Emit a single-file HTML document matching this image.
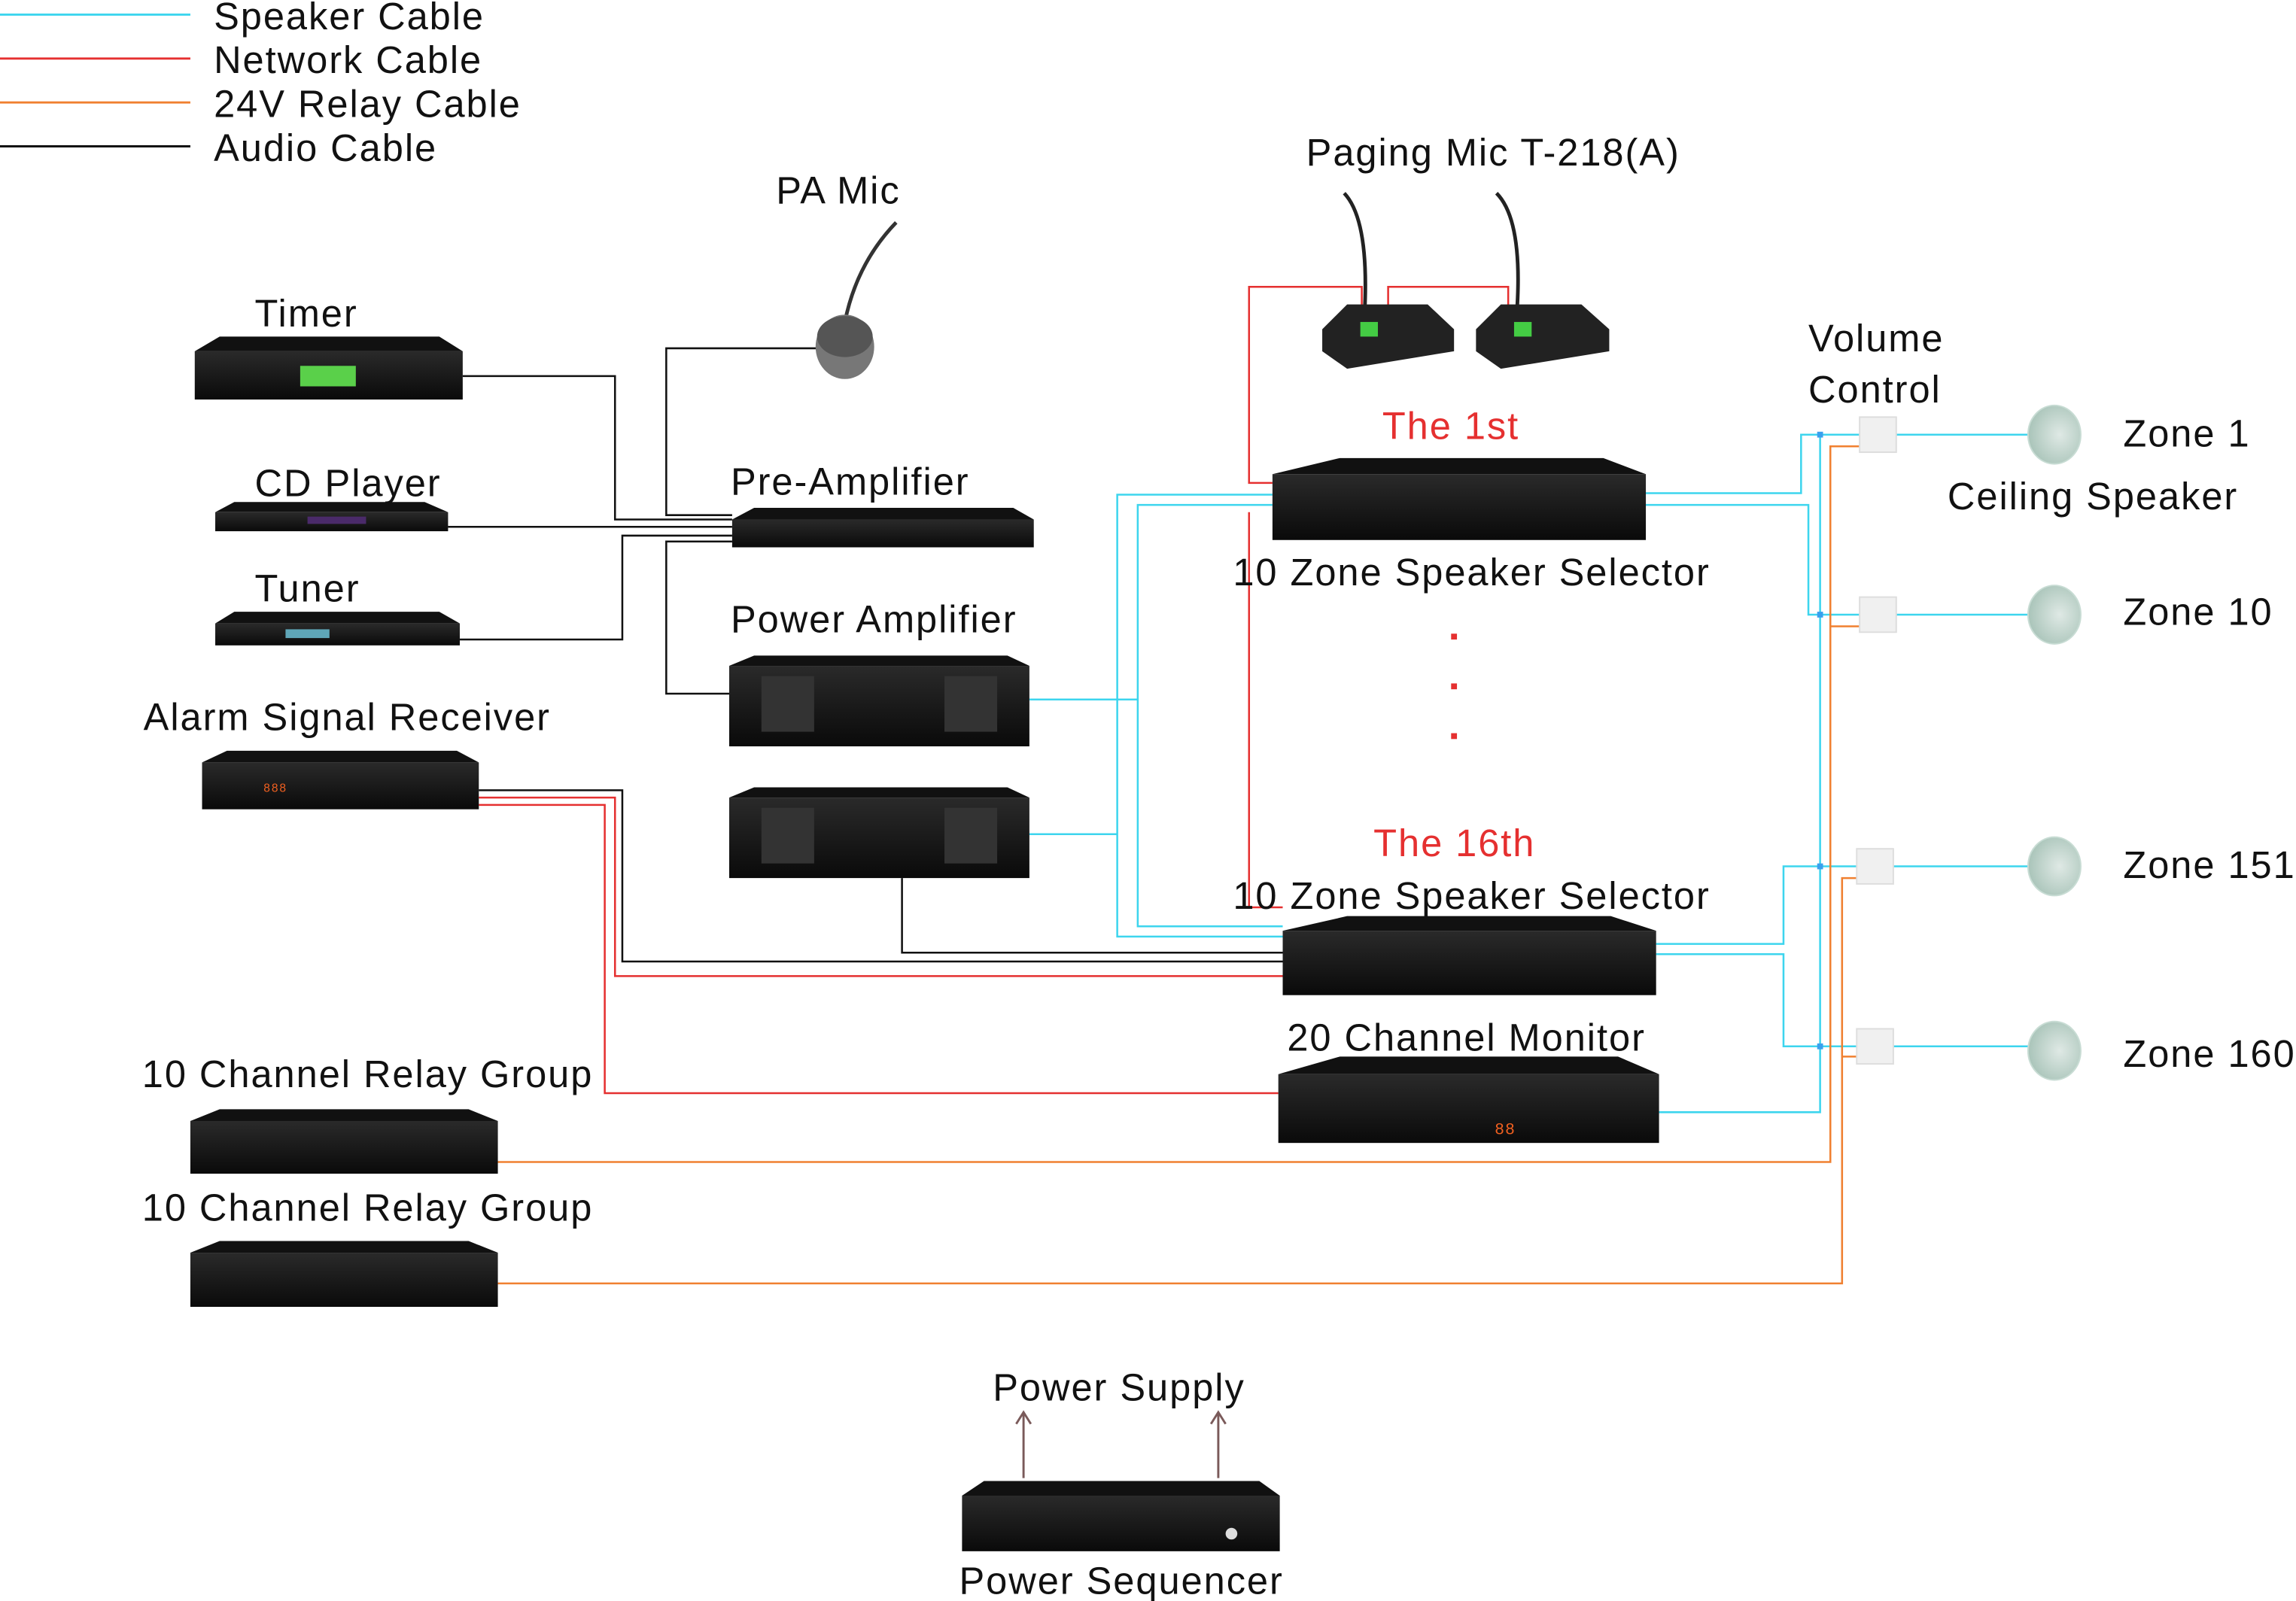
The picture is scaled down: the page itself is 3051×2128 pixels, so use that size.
<!DOCTYPE html>
<html><head><meta charset="utf-8"><style>
html,body{margin:0;padding:0;background:#fff;}
svg{display:block}
text{font-family:"Liberation Sans",sans-serif;font-size:26px;fill:#111;letter-spacing:1px}
</style></head><body>
<svg width="3051" height="2128" viewBox="0 0 1568 1094" preserveAspectRatio="none" xmlns="http://www.w3.org/2000/svg">
<defs>
<linearGradient id="dev" x1="0" y1="0" x2="0" y2="1"><stop offset="0" stop-color="#2a2a2a"/><stop offset="1" stop-color="#0a0a0a"/></linearGradient>
<radialGradient id="spk" cx="0.6" cy="0.5" r="0.6"><stop offset="0" stop-color="#dfe9e5"/><stop offset="1" stop-color="#a9c4b9"/></radialGradient>
</defs>
<!-- legend -->
<g stroke-width="1.5">
<line x1="0" y1="10" x2="130" y2="10" stroke="#3dd5ee"/>
<line x1="0" y1="40" x2="130" y2="40" stroke="#e53030"/>
<line x1="0" y1="70" x2="130" y2="70" stroke="#f08030"/>
<line x1="0" y1="100" x2="130" y2="100" stroke="#111"/>
</g>
<text x="146" y="20">Speaker Cable</text>
<text x="146" y="50">Network Cable</text>
<text x="146" y="80">24V Relay Cable</text>
<text x="146" y="110">Audio Cable</text>

<!-- black audio lines -->
<g fill="none" stroke="#111" stroke-width="1.3">
<polyline points="316,257 420,257 420,355 500,355"/>
<polyline points="306,360 500,360"/>
<polyline points="314,437 425,437 425,366 500,366"/>
<polyline points="558,238 455,238 455,352 500,352"/>
<polyline points="500,370 455,370 455,474 498,474"/>
<polyline points="327,540 425,540 425,657 876,657"/>
<polyline points="616,600 616,651 876,651"/>
</g>
<!-- red network -->
<g fill="none" stroke="#e53030" stroke-width="1.3">
<polyline points="327,545 420,545 420,667 876,667"/>
<polyline points="327,550 413,550 413,747 873,747"/>
<polyline points="930,210 930,196 853,196 853,330 869,330"/>
<polyline points="853,350 853,620 876,620"/>
<polyline points="948,212 948,196 1030,196 1030,212"/>
</g>
<!-- cyan speaker -->
<g fill="none" stroke="#3dd5ee" stroke-width="1.3">
<polyline points="703,478 777,478"/>
<polyline points="703,570 763,570"/>
<polyline points="869,338 763,338 763,640 876,640"/>
<polyline points="869,345 777,345 777,633 876,633"/>
<polyline points="1124,337 1230,337 1230,297 1270,297"/>
<polyline points="1124,345 1235,345 1235,420 1270,420"/>
<polyline points="1131,645 1218,645 1218,592 1270,592"/>
<polyline points="1131,652 1218,652 1218,715 1270,715"/>
<polyline points="1133,760 1243,760 1243,297"/>
<line x1="1295" y1="297" x2="1385" y2="297"/>
<line x1="1295" y1="420" x2="1385" y2="420"/>
<line x1="1293" y1="592" x2="1385" y2="592"/>
<line x1="1293" y1="715" x2="1385" y2="715"/>
</g>
<g fill="#3aa0ee"><rect x="1241" y="295" width="4" height="4"/><rect x="1241" y="418" width="4" height="4"/><rect x="1241" y="590" width="4" height="4"/><rect x="1241" y="713" width="4" height="4"/></g>
<!-- orange relay -->
<g fill="none" stroke="#f08030" stroke-width="1.3">
<polyline points="340,794 1250,794 1250,305 1270,305"/>
<polyline points="1250,428 1270,428"/>
<polyline points="340,877 1258,877 1258,600 1270,600"/>
<polyline points="1258,722 1270,722"/>
</g>

<!-- devices -->
<g id="devs">
<g><polygon points="150,230 300,230 316,240 133,240" fill="#111"/><rect x="133" y="240" width="183" height="33" fill="url(#dev)"/><rect x="205" y="250" width="38" height="14" fill="#5ad04a"/></g>
<g><polygon points="160,343 290,343 306,350 147,350" fill="#111"/><rect x="147" y="350" width="159" height="13" fill="url(#dev)"/><rect x="210" y="353" width="40" height="5" fill="#4a2a6a"/></g>
<g><polygon points="160,418 300,418 314,426 147,426" fill="#111"/><rect x="147" y="426" width="167" height="15" fill="url(#dev)"/><rect x="195" y="430" width="30" height="6" fill="#5fa6b8"/></g>
<g><polygon points="155,513 312,513 327,521 138,521" fill="#111"/><rect x="138" y="521" width="189" height="32" fill="url(#dev)"/><text x="180" y="541" style="font-size:8px;fill:#f06020">888</text></g>
<g><polygon points="515,347 692,347 706,355 500,355" fill="#111"/><rect x="500" y="355" width="206" height="19" fill="url(#dev)"/></g>
<g><polygon points="515,448 688,448 703,455 498,455" fill="#111"/><rect x="498" y="455" width="205" height="55" fill="url(#dev)"/><rect x="520" y="462" width="36" height="38" fill="#333"/><rect x="645" y="462" width="36" height="38" fill="#333"/></g>
<g><polygon points="515,538 688,538 703,545 498,545" fill="#111"/><rect x="498" y="545" width="205" height="55" fill="url(#dev)"/><rect x="520" y="552" width="36" height="38" fill="#333"/><rect x="645" y="552" width="36" height="38" fill="#333"/></g>
<g><polygon points="915,313 1095,313 1124,324 869,324" fill="#111"/><rect x="869" y="324" width="255" height="45" fill="url(#dev)"/></g>
<g><polygon points="920,626 1100,626 1131,636 876,636" fill="#111"/><rect x="876" y="636" width="255" height="44" fill="url(#dev)"/></g>
<g><polygon points="915,722 1105,722 1133,734 873,734" fill="#111"/><rect x="873" y="734" width="260" height="47" fill="url(#dev)"/><text x="1021" y="775" style="font-size:11px;fill:#f06020">88</text></g>
<g><polygon points="150,758 320,758 340,766 130,766" fill="#111"/><rect x="130" y="766" width="210" height="36" fill="url(#dev)"/></g>
<g><polygon points="150,848 320,848 340,856 130,856" fill="#111"/><rect x="130" y="856" width="210" height="37" fill="url(#dev)"/></g>
<g><polygon points="672,1012 860,1012 874,1022 657,1022" fill="#111"/><rect x="657" y="1022" width="217" height="38" fill="url(#dev)"/><circle cx="841" cy="1048" r="4" fill="#ddd"/></g>
</g>

<!-- PA mic -->
<path d="M577,220 Q585,180 612,152" fill="none" stroke="#333" stroke-width="2.5"/>
<ellipse cx="577" cy="237" rx="20" ry="22" fill="#777"/>
<ellipse cx="577" cy="230" rx="19" ry="14" fill="#555"/>
<!-- paging mics -->
<g>
<path d="M932,212 Q935,150 918,132" fill="none" stroke="#222" stroke-width="2.5"/>
<polygon points="920,208 975,208 993,225 993,240 920,252 903,240 903,225" fill="#222"/>
<rect x="929" y="220" width="12" height="10" fill="#4c4"/>
<path d="M1036,212 Q1040,150 1022,132" fill="none" stroke="#222" stroke-width="2.5"/>
<polygon points="1025,208 1080,208 1099,225 1099,240 1025,252 1008,240 1008,225" fill="#222"/>
<rect x="1034" y="220" width="12" height="10" fill="#4c4"/>
</g>
<!-- volume controls -->
<g fill="#f0f0f0" stroke="#ddd">
<rect x="1270" y="285" width="25" height="24"/><rect x="1270" y="408" width="25" height="24"/>
<rect x="1268" y="580" width="25" height="24"/><rect x="1268" y="703" width="25" height="24"/>
</g>
<!-- speakers -->
<g>
<ellipse cx="1403" cy="297" rx="18" ry="20" fill="url(#spk)" stroke="#c8dcd4"/>
<ellipse cx="1403" cy="420" rx="18" ry="20" fill="url(#spk)" stroke="#c8dcd4"/>
<ellipse cx="1403" cy="592" rx="18" ry="20" fill="url(#spk)" stroke="#c8dcd4"/>
<ellipse cx="1403" cy="718" rx="18" ry="20" fill="url(#spk)" stroke="#c8dcd4"/>
</g>
<!-- power supply arrows -->
<g stroke="#7a5a5a" stroke-width="1.5" fill="none">
<line x1="699" y1="1010" x2="699" y2="965"/><polyline points="694,973 699,965 704,973"/>
<line x1="832" y1="1010" x2="832" y2="965"/><polyline points="827,973 832,965 837,973"/>
</g>
<g fill="#e53030"><rect x="991" y="433" width="4" height="4"/><rect x="991" y="467" width="4" height="4"/><rect x="991" y="501" width="4" height="4"/></g>

<!-- labels -->
<text x="892" y="113">Paging Mic T-218(A)</text>
<text x="530" y="139">PA Mic</text>
<text x="174" y="223">Timer</text>
<text x="174" y="339">CD Player</text>
<text x="174" y="411">Tuner</text>
<text x="98" y="499">Alarm Signal Receiver</text>
<text x="499" y="338">Pre-Amplifier</text>
<text x="499" y="432">Power Amplifier</text>
<text x="944" y="300" style="fill:#e53030">The 1st</text>
<text x="842" y="400">10 Zone Speaker Selector</text>
<text x="938" y="585" style="fill:#e53030">The 16th</text>
<text x="842" y="621">10 Zone Speaker Selector</text>
<text x="879" y="718">20 Channel Monitor</text>
<text x="97" y="743">10 Channel Relay Group</text>
<text x="97" y="834">10 Channel Relay Group</text>
<text x="678" y="957">Power Supply</text>
<text x="655" y="1089">Power Sequencer</text>
<text x="1235" y="240">Volume</text>
<text x="1235" y="275">Control</text>
<text x="1450" y="305">Zone 1</text>
<text x="1330" y="348">Ceiling Speaker</text>
<text x="1450" y="427">Zone 10</text>
<text x="1450" y="600">Zone 151</text>
<text x="1450" y="729">Zone 160</text>
</svg>
</body></html>
